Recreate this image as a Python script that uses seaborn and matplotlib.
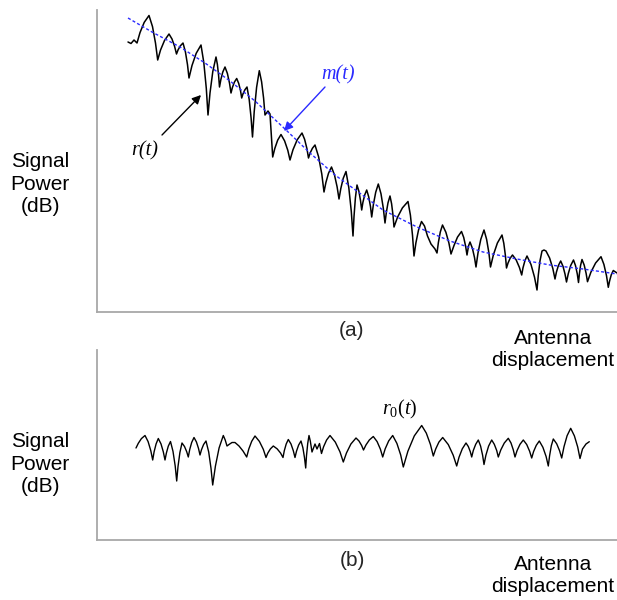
import numpy as np
import pandas as pd
import matplotlib
matplotlib.use("Agg")
import matplotlib.pyplot as plt
import seaborn as sns

# ---------------- data (x = antenna displacement, y = level in screen units) ----------
# (a) received signal r(t)
r_points = [
    (128, 42), (131, 43.5), (134, 40), (137, 43),
    (140, 32.6), (144.2, 22.4), (149, 15.5), (152.5, 26.6), (155.5, 43.1), (157.7, 60),
    (160.5, 50.1), (164.5, 40.5), (169, 34), (172, 39), (174.6, 46.4), (176.5, 54),
    (178.1, 49.8), (180.4, 45.8), (183, 43), (185.4, 51.8), (187.5, 64.7), (189, 78),
    (192, 65.5), (196.2, 53.3), (201, 45), (203.8, 62.5), (206.3, 88.4), (208, 115),
    (210, 93), (212.8, 71.5), (216, 57), (217.4, 64.5), (218.6, 75.6), (219.5, 87),
    (220.9, 79.4), (222.8, 72), (225, 67), (227.4, 73.5), (229.5, 83.1), (231, 93),
    (232.4, 87.5), (234.4, 82.1), (236.7, 78.5), (238.7, 83.4), (240.5, 90.6), (241.7, 98),
    (243, 93.8), (244.9, 89.8), (247, 87), (249.2, 99.5), (251.1, 118), (252.5, 137),
    (254.2, 111.8), (256.6, 87.3), (259.3, 70.7), (261.6, 81.8), (263.6, 98.2), (265, 115),
    (268, 111), (270, 114), (272.7, 157),
    (274.8, 148.5), (277.7, 140.1), (281, 134.5), (284.6, 140.9), (287.8, 150.3), (290, 160),
    (293, 149.7), (297.2, 139.8), (302, 133), (304.6, 139.3), (306.9, 148.5), (308.5, 158),
    (310.1, 153.1), (312.4, 148.3), (315, 145), (318.6, 156.8), (321.8, 174.1), (324, 192),
    (325.9, 182.5), (328.5, 173.3), (331.5, 167), (334.5, 175), (337.1, 186.8), (339, 199),
    (340.8, 188.6), (343.2, 178.4), (346, 171.5), (348.8, 187.6), (351.3, 211.5), (353, 236),
    (354, 216.6), (355.4, 197.8), (357, 185), (358.9, 191.3), (360.5, 200.5), (361.7, 210),
    (362.9, 202.4), (364.7, 195), (366.7, 190), (368.7, 196.8), (370.5, 206.7), (371.7, 217),
    (373.4, 204.5), (375.7, 192.3), (378.3, 184), (381, 193.8), (383.3, 208.2), (385, 223),
    (386.3, 212.7), (388, 202.8), (390, 196), (391.6, 203.8), (393, 215.2), (394, 227),
    (397.5, 217.3), (402.4, 207.9), (408, 201.5), (410.4, 215.1), (412.5, 235.3), (414, 256),
    (415.9, 242.9), (418.5, 230.1), (421.5, 221.5), (424.5, 226), (427.5, 236), (431, 244),
    (435, 249), (437, 253),
    (438.4, 242.4), (440.3, 232), (442.5, 225), (445.9, 232.3), (448.9, 243), (451, 254),
    (454, 245.5), (457.5, 237.1), (461.5, 231.5), (463.7, 237.4), (465.6, 246.1), (467, 255),
    (468.5, 246), (470, 242), (472.4, 248.3), (474.5, 257.5), (476, 267),
    (478, 252.9), (480.8, 239.3), (484, 230), (486.6, 239.3), (488.9, 252.9), (490.5, 267),
    (493.4, 254.8), (497.4, 243), (502, 235), (503.8, 243.3), (505.4, 255.5), (506.5, 268),
    (508, 263.1), (510.1, 258.3), (512.5, 255), (516.2, 260), (519.4, 267.4), (521.7, 275),
    (523, 267.8), (524.9, 260.8), (527, 256), (531, 264.5), (534.5, 277.1), (537, 290),
    (538.3, 275.2), (540, 260.8), (542, 251), (544, 250), (546, 251), (549.6, 258), (552.8, 268.4),
    (555, 279),
    (556.4, 272.2), (558.4, 265.5), (560.7, 261), (563, 266.3), (565, 274), (566.5, 282),
    (568.3, 273.6), (570.7, 265.5), (573.5, 260), (575.5, 265.6), (577.3, 274), (578.5, 282.5),
    (579.4, 273.8), (580.6, 265.3), (582, 259.5), (584.2, 265.1), (586.1, 273.3), (587.5, 281.7),
    (590.9, 272.2), (595.6, 263), (601, 256.7), (603.9, 264.4), (606.5, 275.7), (608.3, 287.3),
    (609.6, 280.9), (611.3, 274.7), (613.3, 270.5), (617, 273),
]

# (a) local mean m(t)
m_points = [(128, 18), (152, 32), (180, 47), (205, 63), (230, 81), (255, 101), (285, 129),
            (310, 153), (335, 175), (350, 186), (383, 210), (417, 227), (450, 241), (483, 252),
            (517, 259), (550, 265), (583, 269), (617, 274)]

# (b) fading component r0(t)
r0_points = [
    (136, 448), (138.3, 443.3), (141.4, 438.6), (145, 435.5), (148.1, 441.6), (150.8, 450.7), (152.7, 460),
    (154.1, 451.8), (156.1, 443.9), (158.3, 438.5), (161, 443.9), (163.3, 451.8), (165, 460),
    (166.4, 453), (168.3, 446.1), (170.5, 441.5), (173, 451.4), (175.2, 466), (176.7, 481),
    (178, 466.6), (179.9, 452.5), (182, 443), (184.5, 446.5), (186.7, 451.7), (188.3, 457),
    (189.7, 449.6), (191.7, 442.4), (194, 437.5), (196.4, 441.9), (198.5, 448.4), (200, 455),
    (201.5, 449.7), (203.6, 444.5), (206, 441), (208.7, 452), (211, 468.3), (212.7, 485),
    (215.4, 466.2), (219.1, 447.9), (223.3, 435.5), (225.2, 440), (227, 446), (229, 444.5),
    (232, 442.5), (235, 442.5), (239, 446), (243, 451), (246.7, 457),
    (248.8, 449), (251.7, 441.3), (255, 436), (259.4, 441.4), (263.3, 449.3), (266, 457.5),
    (267.8, 453.1), (270.4, 448.9), (273.3, 446), (277.2, 448.9), (280.6, 453.1), (283, 457.5),
    (284.3, 450.7), (286.2, 444), (288.3, 439.5), (291, 444), (293.3, 450.7), (295, 457.5),
    (296.5, 451.2), (298.6, 445.1), (301, 441), (302.9, 447.8), (304.5, 457.7), (305.7, 468),
    (306.5, 455.7), (307.7, 443.6), (309, 435.5), (310.3, 441), (312, 452), (315, 444), (317, 449),
    (319.5, 443.5), (321.5, 453.5),
    (323.6, 446.7), (326.6, 440), (330, 435.5), (335.3, 442.1), (340, 451.9), (343.3, 462),
    (346.5, 452.9), (350.9, 444), (356, 438), (359, 441), (361.6, 445.4), (363.5, 450),
    (366, 444.9), (369.4, 439.9), (373.3, 436.5), (377.1, 441.6), (380.4, 449.2), (382.7, 457),
    (385.2, 448.8), (388.7, 440.9), (392.7, 435.5), (396.9, 443.4), (400.7, 455), (403.3, 467),
    (407.9, 451.2), (414.3, 435.9), (421.7, 425.5), (426.3, 433.1), (430.4, 444.4), (433.3, 456),
    (435.7, 449), (438.9, 442.1), (442.7, 437.5), (448.3, 444.6), (453.2, 455.2), (456.7, 466),
    (459, 457.3), (462.3, 448.8), (466, 443), (468.3, 446.5), (470.3, 451.7), (471.7, 457),
    (473.3, 450.5), (475.7, 444.3), (478.3, 440), (480.6, 446.1), (482.6, 455.2), (484, 464.5),
    (485.9, 455.2), (488.6, 446.1), (491.7, 440), (494.3, 444.3), (496.7, 450.5), (498.3, 457),
    (500.8, 449.9), (504.3, 443), (508.3, 438.3), (511, 443), (513.3, 449.9), (515, 457),
    (517.1, 450.5), (520, 444.3), (523.3, 440), (526.7, 444.5), (529.6, 451.2), (531.7, 458),
    (533.6, 451.5), (536.3, 445.3), (539.3, 441), (542.9, 447.3), (546.1, 456.5), (548.3, 466),
    (549.6, 455.7), (551.3, 445.8), (553.3, 439), (556.7, 443.8), (559.6, 450.8), (561.7, 458),
    (564, 446.7), (567.1, 435.7), (570.7, 428.3), (574.4, 435.9), (577.7, 447), (580, 458.5),
    (582.5, 449), (586, 444), (589.3, 441.7),
]

# text
ylabel = "Signal\nPower\n(dB)"
xlabel = "Antenna\ndisplacement"
panel_labels = ["(a)", "(b)"]

# ---------------- figure ----------------
W, H = 617, 600
sns.set_theme(style="white")
plt.rcParams["font.family"] = ["Liberation Sans", "DejaVu Sans"]
plt.rcParams["mathtext.fontset"] = "custom"
plt.rcParams["mathtext.it"] = "Liberation Serif:italic"
plt.rcParams["mathtext.rm"] = "Liberation Serif"

fig = plt.figure(figsize=(W / 100, H / 100), dpi=100)
fig.patch.set_facecolor("white")


def fx(px):
    return px / W


def fy(py):
    return 1 - py / H


ax1 = fig.add_axes([fx(97), fy(312), (617 - 97) / W, (312 - 10) / H])
ax2 = fig.add_axes([fx(97), fy(540), (617 - 97) / W, (540 - 350) / H])

df_r = pd.DataFrame(r_points, columns=["x", "y"])
df_m = pd.DataFrame(m_points, columns=["x", "y"])
df_r0 = pd.DataFrame(r0_points, columns=["x", "y"])

sns.lineplot(data=df_r, x="x", y="y", ax=ax1, sort=False, estimator=None,
             color="black", lw=1.1, solid_joinstyle="round")
sns.lineplot(data=df_m, x="x", y="y", ax=ax1, sort=False, estimator=None,
             color="#2a2aff", lw=1.0, linestyle=(0, (2.2, 1.6)))
sns.lineplot(data=df_r0, x="x", y="y", ax=ax2, sort=False, estimator=None,
             color="black", lw=1.0, solid_joinstyle="round")

for ax, (top, bot) in ((ax1, (10, 312)), (ax2, (350, 540))):
    ax.set_xlim(97, 617)
    ax.set_ylim(bot, top)
    ax.set_xticks([])
    ax.set_yticks([])
    ax.set_xlabel("")
    ax.set_ylabel("")
    ax.set_facecolor("none")
    for s in ("top", "right"):
        ax.spines[s].set_visible(False)
    for s in ("left", "bottom"):
        ax.spines[s].set_color("#a8a8a8")
        ax.spines[s].set_linewidth(1.3)

# annotations (a)
ax1.annotate("", xy=(201, 95), xytext=(162, 135),
             arrowprops=dict(arrowstyle="-|>", color="black", lw=1.0, mutation_scale=13,
                             shrinkA=0, shrinkB=0))
ax1.annotate("", xy=(284, 131), xytext=(325, 87),
             arrowprops=dict(arrowstyle="-|>", color="#2a2aff", lw=1.0, mutation_scale=13,
                             shrinkA=0, shrinkB=0))
ax1.text(145, 151, "r(t)", family="Liberation Serif", style="italic", fontsize=14.5,
         ha="center", va="center", color="black")
ax1.text(338, 75, "m(t)", family="Liberation Serif", style="italic", fontsize=14.5,
         ha="center", va="center", color="#2a2aff")
ax2.text(400, 409, r"$\mathit{r}_{0}\mathit{(t)}$", fontsize=14.5,
         ha="center", va="center", color="black")

# outside labels
for yc in (184, 464):
    fig.text(fx(40), fy(yc), ylabel, ha="center", va="center", fontsize=15,
             linespacing=1.25, color="black")
for yc in (350, 576):
    fig.text(fx(553), fy(yc), xlabel, ha="center", va="center", fontsize=15,
             linespacing=1.2, color="black")
fig.text(fx(352), fy(331), panel_labels[0], ha="center", va="center", fontsize=15)
fig.text(fx(352), fy(560), panel_labels[1], ha="center", va="center", fontsize=15)

fig.savefig("out.png", dpi=100, facecolor="white")
